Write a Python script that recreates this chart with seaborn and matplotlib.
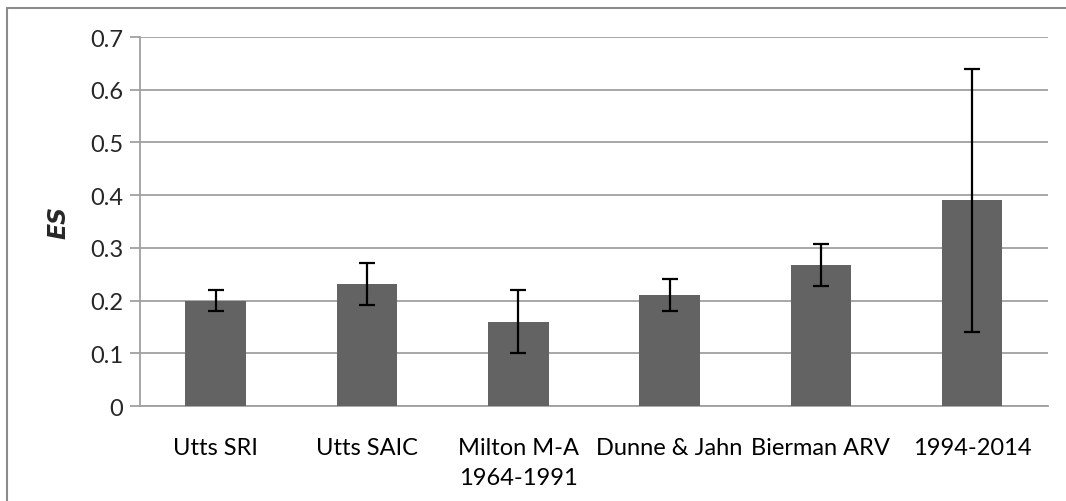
import matplotlib
matplotlib.use("Agg")
import matplotlib.pyplot as plt
import numpy as np
import pandas as pd
import seaborn as sns

# Data
studies = ["Utts SRI", "Utts SAIC", "Milton M-A\n1964-1991", "Dunne & Jahn",
           "Bierman ARV", "1994-2014"]
es = [0.20, 0.232, 0.16, 0.211, 0.267, 0.39]
ci_low = [0.18, 0.192, 0.10, 0.181, 0.227, 0.14]
ci_high = [0.22, 0.272, 0.22, 0.241, 0.307, 0.64]

df = pd.DataFrame({"study": studies, "es": es})

sns.set_style("white")
plt.rcParams["font.family"] = ["Lato", "DejaVu Sans"]

fig = plt.figure(figsize=(10.66, 5.02), dpi=100)
ax = fig.add_axes([0.1313, 0.1892, 0.983 - 0.1313, 0.9243 - 0.1892])

sns.barplot(data=df, x="study", y="es", color="#636363", width=0.4,
            saturation=1, ax=ax, zorder=3, linewidth=0)

x = np.arange(len(studies))
es_arr = np.array(es)
yerr = [es_arr - np.array(ci_low), np.array(ci_high) - es_arr]
ax.errorbar(x, es_arr, yerr=yerr, fmt="none", ecolor="black",
            elinewidth=1.6, capsize=6, capthick=1.6, zorder=4)

grid_c = "#a0a0a0"
ax.set_ylim(0, 0.7)
ax.set_xlim(-0.5, len(studies) - 0.5)
ax.set_yticks(np.arange(0, 0.71, 0.1))
ax.set_yticklabels(["0"] + [f"{v:.1f}" for v in np.arange(0.1, 0.71, 0.1)])
ax.yaxis.grid(True, color=grid_c, linewidth=1.3, zorder=0)
ax.set_axisbelow(True)

# category boundary ticks on x axis
ax.set_xticks(np.arange(-0.5, len(studies)), minor=True)
ax.tick_params(axis="x", which="minor", length=7, color=grid_c, width=1.3,
               direction="out")
ax.tick_params(axis="x", which="major", length=0, labelsize=17, pad=22,
               colors="black")
ax.tick_params(axis="y", length=7, color=grid_c, width=1.3, labelsize=17,
               pad=5, left=True, direction="out")
for lbl in ax.get_xticklabels():
    lbl.set_linespacing(1.55)

for side in ["top", "right"]:
    ax.spines[side].set_visible(False)
for side in ["left", "bottom"]:
    ax.spines[side].set_color(grid_c)
    ax.spines[side].set_linewidth(1.3)

ax.set_xlabel("")
ax.set_ylabel("ES", fontsize=17, fontweight="bold", fontstyle="italic",
              family=["DejaVu Sans"], labelpad=14)

# outer chart border (left and top edges)
fig.add_artist(plt.Line2D([7 / 1066, 1], [1 - 9 / 502, 1 - 9 / 502],
                          color="#8c8c8c", linewidth=1.5))
fig.add_artist(plt.Line2D([7 / 1066, 7 / 1066], [0, 1 - 9 / 502],
                          color="#8c8c8c", linewidth=1.5))

fig.savefig("out.png", dpi=100)
